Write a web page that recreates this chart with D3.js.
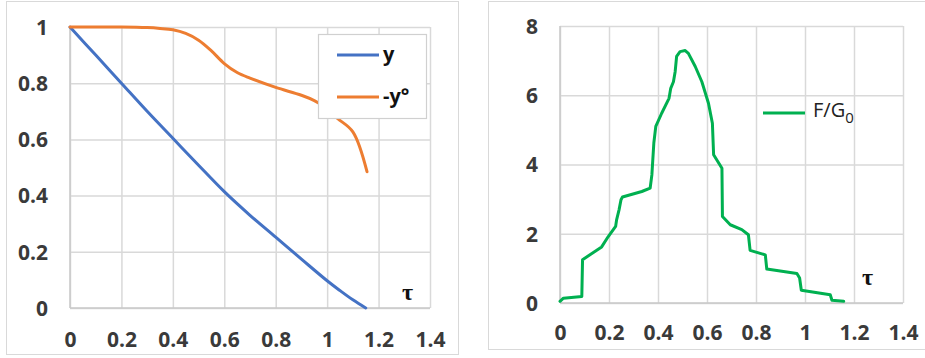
<!DOCTYPE html>
<html>
<head>
<meta charset="utf-8">
<script src="https://cdn.jsdelivr.net/npm/d3@7"></script>
<style>
body { margin: 0; background: #fff; }
.tick text { font-family: "Open Sans", sans-serif; font-weight: bold; font-size: 21px; fill: #3a3a3a; }
.grid line { stroke: #d9d9d9; stroke-width: 1.5; }
</style>
</head>
<body>
<div id="chart"></div>
<script>
// left chart: y and -y°
var tauY = [0, 0.1, 0.2, 0.3, 0.4, 0.5, 0.6, 0.7, 0.8, 0.9, 1.0, 1.05, 1.1, 1.15];
var yVals = [1, 0.9, 0.8, 0.7, 0.604, 0.508, 0.414, 0.33, 0.252, 0.174, 0.097, 0.062, 0.029, 0];
var tauYo = [0, 0.1, 0.2, 0.3, 0.35, 0.4, 0.45, 0.5, 0.55, 0.6, 0.65, 0.7, 0.8, 0.9, 0.95, 1.0, 1.04, 1.1, 1.155];
var yoVals = [1, 1, 1, 0.998, 0.995, 0.99, 0.977, 0.953, 0.915, 0.87, 0.838, 0.818, 0.785, 0.757, 0.738, 0.71, 0.675, 0.627, 0.485];

// right chart: F/G0
var tauF = [0, 0.014, 0.089, 0.092, 0.17, 0.197, 0.227, 0.231, 0.241, 0.249, 0.255, 0.334, 0.368, 0.375, 0.383, 0.391,
	0.415, 0.445, 0.452, 0.463, 0.47, 0.476, 0.49, 0.511, 0.524, 0.552, 0.579, 0.606, 0.622, 0.627, 0.661, 0.663,
	0.695, 0.742, 0.769, 0.776, 0.838, 0.844, 0.967, 0.978, 0.985, 1.103, 1.11, 1.158];
var fVals = [0.05, 0.14, 0.19, 1.25, 1.62, 1.92, 2.21, 2.4, 2.69, 2.98, 3.06, 3.22, 3.32, 3.7, 4.62, 5.1,
	5.48, 5.91, 6.2, 6.39, 6.68, 7.12, 7.26, 7.29, 7.21, 6.83, 6.39, 5.77, 5.19, 4.28, 3.89, 2.5,
	2.26, 2.12, 1.97, 1.52, 1.39, 0.98, 0.85, 0.72, 0.37, 0.24, 0.08, 0.05];

var xTicks = [0, 0.2, 0.4, 0.6, 0.8, 1, 1.2, 1.4];
var yTicksL = [0, 0.2, 0.4, 0.6, 0.8, 1];
var yTicksR = [0, 2, 4, 6, 8];

var svg = d3.select("#chart").append("svg").attr("width", 925).attr("height", 358);

// chart borders
svg.append("rect").attr("x", 6.5).attr("y", 1.5).attr("width", 452).attr("height", 353)
	.attr("fill", "#fff").attr("stroke", "#d9d9d9");
svg.append("rect").attr("x", 488.5).attr("y", 1.5).attr("width", 450).attr("height", 348)
	.attr("fill", "#fff").attr("stroke", "#d9d9d9");

function drawPanel(o) {
	var x = d3.scaleLinear().domain([0, 1.4]).range([o.x0, o.x1]);
	var y = d3.scaleLinear().domain(o.yDomain).range([o.y0, o.y1]);

	var gx = svg.append("g").attr("class", "grid").attr("transform", `translate(0, ${o.y0})`)
		.call(d3.axisBottom(x).tickValues(xTicks).tickSize(-(o.y0 - o.y1)).tickPadding(o.xPad).tickFormat(d3.format("")));
	gx.select(".domain").remove();

	var gy = svg.append("g").attr("class", "grid").attr("transform", `translate(${o.x0}, 0)`)
		.call(d3.axisLeft(y).tickValues(o.yTicks).tickSize(-(o.x1 - o.x0)).tickPadding(22).tickFormat(d3.format("")));
	gy.select(".domain").remove();
	gy.selectAll(".tick text").attr("dy", "0.35em");

	// base lines a little darker
	svg.append("line").attr("x1", o.x0).attr("x2", o.x1).attr("y1", o.y0).attr("y2", o.y0)
		.attr("stroke", "#c8c8c8").attr("stroke-width", 1.5);
	svg.append("line").attr("x1", o.x0).attr("x2", o.x0).attr("y1", o.y0).attr("y2", o.y1)
		.attr("stroke", "#c8c8c8").attr("stroke-width", 1.5);

	o.series.forEach(function(s) {
		var line = d3.line().x(function(d, i) { return x(s.tau[i]); }).y(function(d) { return y(d); }).curve(s.curve);
		svg.append("path").datum(s.vals).attr("d", line)
			.attr("fill", "none").attr("stroke", s.color).attr("stroke-width", 3)
			.attr("stroke-linejoin", "round").attr("stroke-linecap", "round");
	});

	svg.append("text").attr("x", o.tauX).attr("y", o.tauY)
		.style("font-family", "Liberation Serif, serif").style("font-weight", "bold").style("font-size", "24px")
		.attr("fill", "#111").text("τ");
}

drawPanel({
	x0: 70, x1: 430, y0: 308, y1: 27, yDomain: [0, 1], yTicks: yTicksL, xPad: 24,
	tauX: 402, tauY: 300,
	series: [
		{tau: tauY, vals: yVals, color: "#4472c4", curve: d3.curveCatmullRom.alpha(0.5)},
		{tau: tauYo, vals: yoVals, color: "#ed7d31", curve: d3.curveCatmullRom.alpha(0.5)}
	]
});

drawPanel({
	x0: 560, x1: 903, y0: 303, y1: 26, yDomain: [0, 8], yTicks: yTicksR, xPad: 22,
	tauX: 862, tauY: 285,
	series: [
		{tau: tauF, vals: fVals, color: "#00b050", curve: d3.curveLinear}
	]
});

// left legend
svg.append("rect").attr("x", 318.5).attr("y", 34.5).attr("width", 108).attr("height", 84)
	.attr("fill", "#fff").attr("stroke", "#d0d0d0").attr("stroke-width", 1.2);
var legL = [{label: "y", color: "#4472c4", y: 55}, {label: "-y°", color: "#ed7d31", y: 97}];
legL.forEach(function(d) {
	svg.append("line").attr("x1", 337).attr("x2", 379).attr("y1", d.y).attr("y2", d.y)
		.attr("stroke", d.color).attr("stroke-width", 3);
	svg.append("text").attr("x", 383).attr("y", d.y + 6)
		.style("font-family", "Open Sans, sans-serif").style("font-weight", "bold").style("font-size", "20px")
		.attr("fill", "#111").text(d.label);
});

// right legend
svg.append("line").attr("x1", 763).attr("x2", 805).attr("y1", 113).attr("y2", 113)
	.attr("stroke", "#00b050").attr("stroke-width", 3);
var ft = svg.append("text").attr("x", 813).attr("y", 117)
	.style("font-family", "Open Sans, sans-serif").style("font-size", "20px").attr("fill", "#222");
ft.append("tspan").text("F/G");
ft.append("tspan").attr("dy", 6).style("font-size", "15px").text("0");
</script>
</body>
</html>
